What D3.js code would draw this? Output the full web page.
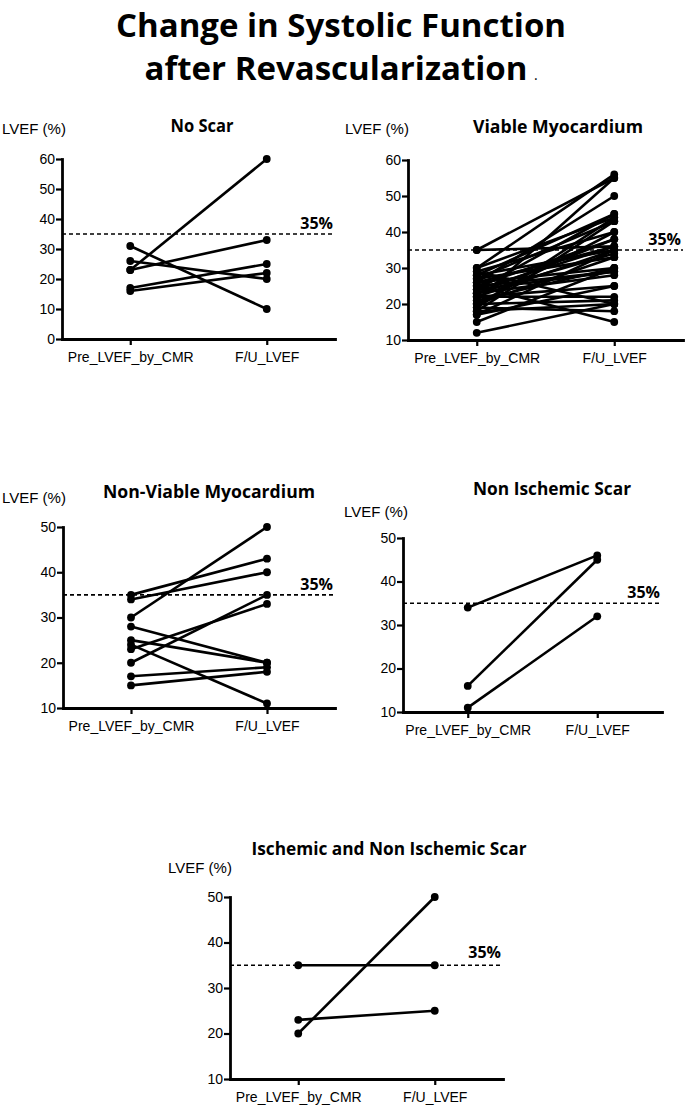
<!DOCTYPE html>
<html><head><meta charset="utf-8">
<script src="https://cdn.jsdelivr.net/npm/d3@7"></script>
<style>body{margin:0;background:#fff}</style></head>
<body>
<svg id="c" width="685" height="1105"></svg>
<script>
// ---- data ----
const categories = ["Pre_LVEF_by_CMR", "F/U_LVEF"];
const threshold = 35;
const thresholdLabel = "35%";
const yLabel = "LVEF (%)";

const noScarPre  = [23, 31, 26, 23, 17, 16];
const noScarPost = [60, 10, 20, 33, 25, 22];

const viablePre  = [35,35,30,30,29,28,28,27,27,26,26,25,25,25,24,24,23,23,22,22,22,21,21,20,20,20,19,18,18,17,17,15,12,29,26,24,23,19];
const viablePost = [55,36,56,44,40,45,35,43,33,50,30,38,29,15,45,36,34,28,22,35,25,55,30,21,33,40,18,43,20,35,25,30,20,20,36,29,38,44];

const nonViablePre  = [35, 34, 30, 28, 25, 24, 23, 20, 17, 15];
const nonViablePost = [43, 40, 50, 20, 20, 11, 33, 35, 19, 18];

const nonIschemicPre  = [34, 16, 11];
const nonIschemicPost = [46, 45, 32];

const mixedPre  = [35, 23, 20];
const mixedPost = [35, 25, 50];

const ticks0to60  = [0, 10, 20, 30, 40, 50, 60];
const ticks10to60 = [10, 20, 30, 40, 50, 60];
const ticks10to50 = [10, 20, 30, 40, 50];

const panelTitles = ["No Scar", "Viable Myocardium", "Non-Viable Myocardium", "Non Ischemic Scar", "Ischemic and Non Ischemic Scar"];

// ---- drawing ----
const svg = d3.select("#c");
const AXIS_FONT = "'Liberation Sans', Arial, sans-serif";
const BOLD_FONT = "'Open Sans', 'DejaVu Sans', sans-serif";

// main title
svg.append("text").attr("x", 341).attr("y", 37)
  .attr("text-anchor", "middle").attr("font-family", BOLD_FONT).attr("font-weight", 700)
  .attr("font-size", 33).attr("textLength", 450).attr("lengthAdjust", "spacingAndGlyphs")
  .text("Change in Systolic Function");
svg.append("text").attr("x", 336).attr("y", 80)
  .attr("text-anchor", "middle").attr("font-family", BOLD_FONT).attr("font-weight", 700)
  .attr("font-size", 33).attr("textLength", 383).attr("lengthAdjust", "spacingAndGlyphs")
  .text("after Revascularization");
svg.append("text").attr("x", 534).attr("y", 80)
  .attr("font-family", BOLD_FONT).attr("font-size", 14).text(".");

function panel(cfg) {
  const g = svg.append("g");
  const y = d3.scaleLinear().domain(cfg.domain).range([cfg.bottom, cfg.top]);
  const x = d3.scalePoint().domain(categories).range([cfg.left, cfg.right]).padding(0.5);

  // threshold dashed line
  g.append("line").attr("x1", cfg.left).attr("x2", cfg.right)
    .attr("y1", y(threshold)).attr("y2", y(threshold))
    .attr("stroke", "#000").attr("stroke-width", 1.6).attr("stroke-dasharray", "4,3");
  g.append("text").attr("x", cfg.right - 2).attr("y", y(threshold) - cfg.labOff)
    .attr("text-anchor", "end").attr("font-family", BOLD_FONT).attr("font-weight", 700)
    .attr("font-size", 16).text(thresholdLabel);

  const pairs = cfg.pre.map((v, i) => [v, cfg.post[i]]);
  g.selectAll("line.pair").data(pairs).join("line").attr("class", "pair")
    .attr("x1", x(categories[0])).attr("x2", x(categories[1]))
    .attr("y1", d => y(d[0])).attr("y2", d => y(d[1]))
    .attr("stroke", "#000").attr("stroke-width", 2.6);
  const pts = [];
  pairs.forEach(d => { pts.push([categories[0], d[0]]); pts.push([categories[1], d[1]]); });
  g.selectAll("circle").data(pts).join("circle")
    .attr("cx", d => x(d[0])).attr("cy", d => y(d[1])).attr("r", 3.9).attr("fill", "#000");

  // axes
  const ya = g.append("g").attr("transform", `translate(${cfg.left},0)`)
    .call(d3.axisLeft(y).tickValues(cfg.ticks).tickSize(6).tickSizeOuter(0).tickPadding(1));
  const xa = g.append("g").attr("transform", `translate(0,${cfg.bottom})`)
    .call(d3.axisBottom(x).tickSize(6).tickSizeOuter(0).tickPadding(7));
  [ya, xa].forEach(a => {
    a.attr("font-family", AXIS_FONT).attr("font-size", 14);
    a.select(".domain").attr("stroke-width", 2.8).attr("stroke-linecap", "square");
    a.selectAll(".tick line").attr("stroke-width", 2.2);
    a.selectAll("text").attr("fill", "#000");
  });

  // labels
  g.append("text").attr("x", cfg.ylabX).attr("y", cfg.ylabY)
    .attr("font-family", AXIS_FONT).attr("font-size", 15).text(yLabel);
  g.append("text").attr("x", cfg.titleX).attr("y", cfg.titleY)
    .attr("text-anchor", "middle").attr("font-family", BOLD_FONT).attr("font-weight", 700)
    .attr("font-size", 17).attr("textLength", cfg.titleW).attr("lengthAdjust", "spacingAndGlyphs")
    .text(cfg.title);
}

panel({left: 62, right: 335, top: 159, bottom: 339, domain: [0, 60], ticks: ticks0to60,
  pre: noScarPre, post: noScarPost, title: panelTitles[0], titleX: 202, titleY: 132, titleW: 63,
  ylabX: 2, ylabY: 134, labOff: 5});
panel({left: 408, right: 683, top: 160, bottom: 340, domain: [10, 60], ticks: ticks10to60,
  pre: viablePre, post: viablePost, title: panelTitles[1], titleX: 558, titleY: 133, titleW: 170,
  ylabX: 345, ylabY: 134, labOff: 5});
panel({left: 63, right: 335, top: 527, bottom: 708, domain: [10, 50], ticks: ticks10to50,
  pre: nonViablePre, post: nonViablePost, title: panelTitles[2], titleX: 209, titleY: 498, titleW: 212,
  ylabX: 2, ylabY: 503, labOff: 5});
panel({left: 403, right: 662, top: 538, bottom: 712, domain: [10, 50], ticks: ticks10to50,
  pre: nonIschemicPre, post: nonIschemicPost, title: panelTitles[3], titleX: 552, titleY: 495, titleW: 158,
  ylabX: 344, ylabY: 517, labOff: 5});
panel({left: 230, right: 503, top: 897, bottom: 1079, domain: [10, 50], ticks: ticks10to50,
  pre: mixedPre, post: mixedPost, title: panelTitles[4], titleX: 389, titleY: 855, titleW: 275,
  ylabX: 168, ylabY: 873, labOff: 7});
</script>
</body></html>
